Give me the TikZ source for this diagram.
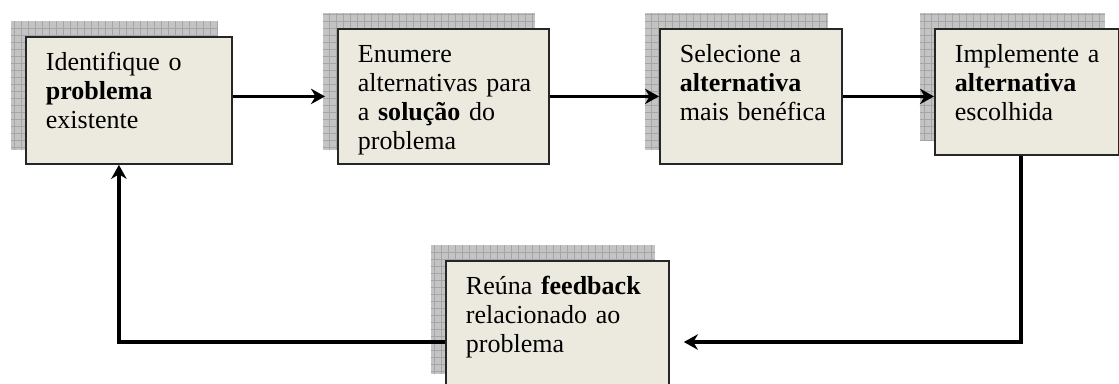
\documentclass[tikz,border=0pt]{standalone}
\usepackage{fontspec}
\setmainfont{Liberation Serif}
\usetikzlibrary{arrows.meta,backgrounds}
\definecolor{bege}{RGB}{236,233,223}
\definecolor{cinza}{RGB}{196,196,196}
\definecolor{grade}{RGB}{165,165,165}

\begin{document}
\begin{tikzpicture}[>={Stealth[length=10pt,width=11pt]},
  passo/.style={draw=black!85,line width=1.3pt,fill=bege,anchor=north west,align=left,inner xsep=0.5cm,inner ysep=0.25cm,text height=0.6cm,font=\fontsize{18.5}{20.6}\selectfont},
  sombra/.style={fill=cinza,path picture={\draw[grade,line width=0.4pt,step=0.175] (path picture bounding box.south west) grid (path picture bounding box.north east);}},
  seta/.style={->,line width=2.6pt}]
  \useasboundingbox (0,0) rectangle (27.975,-9.575);
  \node[passo,text width=4.15cm,text depth=2.075cm] (p1) at (0.625,-0.9) {Identifique o\\\textbf{problema}\\existente};
  \node[passo,text width=4.275cm,text depth=2.275cm] (p2) at (8.425,-0.7) {Enumere\\\mbox{alternativas para}\\a \textbf{solução} do\\problema};
  \node[passo,text width=3.55cm,text depth=2.275cm] (p3) at (16.475,-0.7) {Selecione a\\\textbf{alternativa}\\\mbox{mais benéfica}};
  \node[passo,text width=3.6cm,text depth=2.05cm] (p4) at (23.35,-0.7) {\mbox{Implemente a}\\\textbf{alternativa}\\escolhida};
  \node[passo,text width=4.575cm,text depth=2.075cm] (p5) at (11.125,-6.5) {Reúna \textbf{feedback}\\relacionado ao\\problema};
  % sombras quadriculadas
  \begin{scope}[on background layer]
    \path[sombra] ([shift={(-0.36,0.37)}]p1.south west) rectangle ([shift={(-0.36,0.37)}]p1.north east);
    \path[sombra] ([shift={(-0.36,0.37)}]p2.south west) rectangle ([shift={(-0.36,0.37)}]p2.north east);
    \path[sombra] ([shift={(-0.36,0.37)}]p3.south west) rectangle ([shift={(-0.36,0.37)}]p3.north east);
    \path[sombra] ([shift={(-0.36,0.37)}]p4.south west) rectangle ([shift={(-0.36,0.37)}]p4.north east);
    \path[sombra] ([shift={(-0.36,0.37)}]p5.south west) rectangle ([shift={(-0.36,0.37)}]p5.north east);
  \end{scope}
  \draw[seta,shorten >=0.3cm] (p2.west -| p1.east) -- (p2.west);
  \draw[seta] (p2.east) -- (p3.west);
  \draw[seta] (p3.east) -- (p3.east -| p4.west);
  \draw[seta,shorten >=0.35cm] ([xshift=-0.15cm]p4.south) |- ([yshift=-0.44cm]p5.east);
  \draw[seta] ([yshift=-0.44cm]p5.west) -| ([xshift=-0.25cm]p1.south);
\end{tikzpicture}
\end{document}
